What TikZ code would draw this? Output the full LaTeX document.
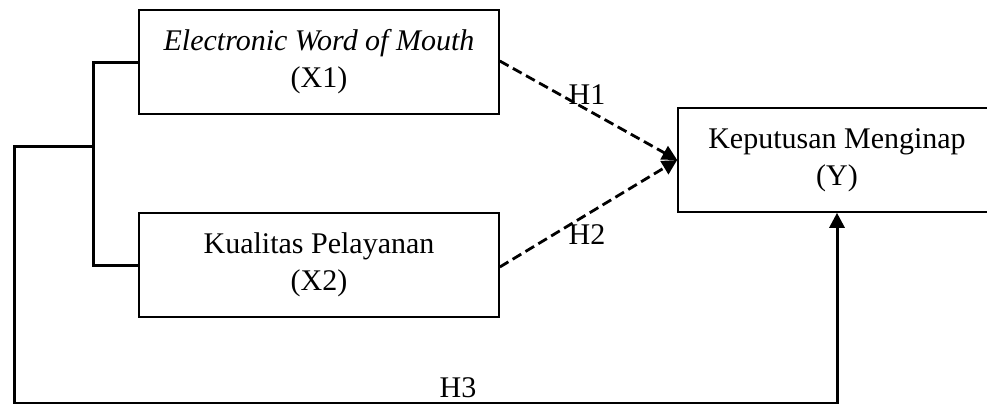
\documentclass[tikz,border=0pt]{standalone}
\usepackage{fontspec}
\setmainfont{Liberation Serif}
\newfontfamily\labelserif{Liberation Serif}
\usetikzlibrary{arrows.meta}
\begin{document}
\begin{tikzpicture}[x=1bp,y=-1bp,
  txt/.style={font=\labelserif\fontsize{30bp}{37bp}\selectfont},
  varbox/.style={txt, draw, line width=1.6bp, inner sep=0pt, align=center,
    minimum height=104bp},
  link/.style={line width=3bp},
  hyp/.style={line width=2.8bp, dash pattern=on 10bp off 5bp,
    -{Triangle[length=15bp,width=15bp]}},
  direct/.style={line width=3bp, -{Triangle[length=15bp,width=15bp]}}]
\clip (0,0) rectangle (987,403);
\fill[white] (0,0) rectangle (987,403);

% variable boxes
\node[varbox, minimum width=360bp] (x1) at (319,62)
  {\textit{Electronic Word of Mouth}\\(X1)};
\node[varbox, minimum width=360bp] (x2) at (319,265)
  {Kualitas Pelayanan\\(X2)};
\node[varbox, minimum width=318bp] (y) at (837,160)
  {Keputusan Menginap\\(Y)};

% bracket joining X1 and X2
\coordinate (jn) at (93,146);
\coordinate (ll) at (14,146);
\coordinate (bl) at (14,403.8);
\coordinate (br) at (837,403.8);
\draw[link] (x1.west) -| (jn) |- (x2.west);
\draw[link] (jn) -- (ll) -- (bl) -- (br);
\draw[direct] (br) -- (y.south);

% hypothesised paths
\draw[hyp] ([yshift=1bp]x1.east) -- (y.west);
\draw[hyp] ([yshift=-2bp]x2.east) -- (y.west);

\node[txt] (h1) at (587,95) {H1};
\node[txt] (h2) at (587,235) {H2};
\node[txt] (h3) at (458,388) {H3};
\end{tikzpicture}
\end{document}
